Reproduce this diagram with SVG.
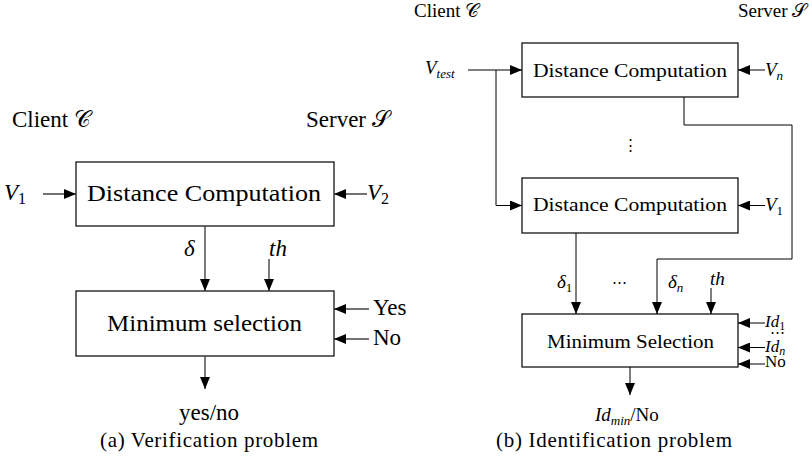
<svg xmlns="http://www.w3.org/2000/svg" width="812" height="464" viewBox="0 0 812 464">
<style>
text{font-family:'Liberation Serif','DejaVu Serif',serif;fill:#000}
.m{font-style:italic}
.L{font-size:23px}
.R{font-size:19px}
.S{font-size:17px}
.box{fill:#fff;stroke:#000;stroke-width:1.2}
.cl{fill:none;stroke:#444;stroke-width:1.4}
.cr{fill:none;stroke:#000;stroke-width:1}
.cap{font-size:21px}
.dots{font-size:15px}
</style>
<defs>
<marker id="ah" markerUnits="userSpaceOnUse" markerWidth="12" markerHeight="10" refX="12" refY="5" orient="auto">
<path d="M0,0 L12,5 L0,10 z" fill="#000"/>
</marker>
</defs>

<!-- Left panel -->
<g id="labelsA">
<text class="L" x="12" y="127">Client 𝒞</text>
<text class="L" x="306" y="127">Server 𝒮</text>
</g>
<g id="distA">
<rect class="box" x="76" y="162" width="258" height="64"/>
<text class="L" x="87" y="201" textLength="234" lengthAdjust="spacingAndGlyphs">Distance Computation</text>
</g>
<g id="minA">
<rect class="box" x="76" y="291" width="258" height="65"/>
<text class="L" x="107" y="331" textLength="195" lengthAdjust="spacingAndGlyphs">Minimum selection</text>
</g>
<g id="inputsA">
<text class="L m" x="4" y="200">V<tspan font-style="normal" font-size="16" dy="4">1</tspan></text>
<text class="L m" x="367" y="200">V<tspan font-style="normal" font-size="16" dy="4">2</tspan></text>
<text class="L m" x="184" y="256">δ</text>
<text class="L m" x="269" y="256">th</text>
<text class="L" x="373" y="315">Yes</text>
<text class="L" x="373" y="345">No</text>
<text class="L" x="209" y="420" text-anchor="middle">yes/no</text>
<text class="cap" x="100" y="447" textLength="218" lengthAdjust="spacing">(a)  Verification problem</text>
</g>
<g id="connectorsA">
<line class="cl" x1="43" y1="194" x2="76" y2="194" marker-end="url(#ah)"/>
<line class="cl" x1="367" y1="194" x2="334" y2="194" marker-end="url(#ah)"/>
<line class="cl" x1="205" y1="226" x2="205" y2="291" marker-end="url(#ah)"/>
<line class="cl" x1="269" y1="259" x2="269" y2="291" marker-end="url(#ah)"/>
<line class="cl" x1="369" y1="309" x2="334" y2="309" marker-end="url(#ah)"/>
<line class="cl" x1="369" y1="339" x2="334" y2="339" marker-end="url(#ah)"/>
<line class="cl" x1="205" y1="356" x2="205" y2="389" marker-end="url(#ah)"/>
</g>

<!-- Right panel -->
<g id="labelsB">
<text class="R" x="414" y="17">Client 𝒞</text>
<text class="R" x="738" y="17">Server 𝒮</text>
</g>
<g id="distN">
<rect class="box" x="522" y="43" width="216" height="54"/>
<text class="R" x="533" y="77" textLength="194" lengthAdjust="spacingAndGlyphs">Distance Computation</text>
</g>
<g id="dist1">
<rect class="box" x="522" y="178" width="216" height="55"/>
<text class="R" x="533" y="211" textLength="194" lengthAdjust="spacingAndGlyphs">Distance Computation</text>
</g>
<g id="minB">
<rect class="box" x="522" y="314" width="216" height="53"/>
<text class="R" x="547" y="348" textLength="167" lengthAdjust="spacingAndGlyphs">Minimum Selection</text>
</g>
<g id="inputsB">
<text class="R m" x="425" y="74">V<tspan font-size="13" dy="4">test</tspan></text>
<text class="R m" x="765" y="76">V<tspan font-size="13" dy="4">n</tspan></text>
<text class="R m" x="765" y="211">V<tspan font-style="normal" font-size="13" dy="4">1</tspan></text>
<text class="dots" x="630" y="150" text-anchor="middle">⋮</text>
<text class="R m" x="557" y="288">δ<tspan font-style="normal" font-size="13" dy="4">1</tspan></text>
<text class="dots" x="619" y="287" text-anchor="middle">⋯</text>
<text class="R m" x="668" y="288">δ<tspan font-size="13" dy="4">n</tspan></text>
<text class="R m" x="710" y="285">th</text>
<text class="S m" x="765" y="327">Id<tspan font-style="normal" font-size="12" dy="3">1</tspan></text>
<text class="dots" x="777" y="337" text-anchor="middle">⋯</text>
<text class="S m" x="765" y="352">Id<tspan font-size="12" dy="3">n</tspan></text>
<text class="S" x="765" y="367">No</text>
<text class="R m" x="595" y="421">Id<tspan font-size="13" dy="4">min</tspan><tspan font-style="normal" dy="-4">/No</tspan></text>
<text class="cap" x="496" y="447" textLength="236" lengthAdjust="spacing">(b)  Identification problem</text>
</g>
<g id="connectorsB">
<line class="cr" x1="468" y1="70" x2="522" y2="70" marker-end="url(#ah)"/>
<polyline class="cr" points="496,70 496,205.5 522,205.5" marker-end="url(#ah)"/>
<line class="cr" x1="765" y1="70" x2="738" y2="70" marker-end="url(#ah)"/>
<line class="cr" x1="765" y1="205.5" x2="738" y2="205.5" marker-end="url(#ah)"/>
<polyline class="cr" points="684,97 684,125 792,125 792,259 657,259 657,314" marker-end="url(#ah)"/>
<line class="cr" x1="576" y1="233" x2="576" y2="314" marker-end="url(#ah)"/>
<line class="cr" x1="711" y1="288" x2="711" y2="314" marker-end="url(#ah)"/>
<line class="cr" x1="765" y1="323" x2="738" y2="323" marker-end="url(#ah)"/>
<line class="cr" x1="765" y1="347.5" x2="738" y2="347.5" marker-end="url(#ah)"/>
<line class="cr" x1="765" y1="364" x2="738" y2="364" marker-end="url(#ah)"/>
<line class="cr" x1="630" y1="367" x2="630" y2="395" marker-end="url(#ah)"/>
</g>
</svg>
